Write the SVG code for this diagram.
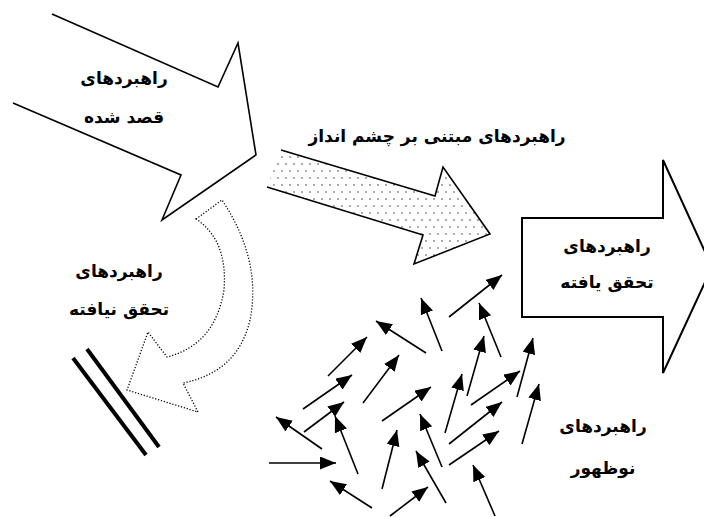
<svg xmlns="http://www.w3.org/2000/svg" width="704" height="517" viewBox="0 0 704 517">
<style>
.lbl{font-family:"DejaVu Sans","Noto Sans",sans-serif;font-weight:bold;font-size:17px;fill:#000;text-anchor:middle}
.big{fill:#fff;stroke:#000;stroke-width:1.6;stroke-linejoin:miter}
.dotline{fill:none;stroke:#000;stroke-width:1.3;stroke-dasharray:1.2 1.8}
.small{stroke:#000;stroke-width:1.6;marker-end:url(#ah)}
</style>
<defs>
<pattern id="dots" width="8" height="14" patternUnits="userSpaceOnUse">
<circle cx="2" cy="3" r="0.8" fill="#444"/>
<circle cx="6" cy="10" r="0.8" fill="#444"/>
</pattern>
<marker id="ah" markerUnits="userSpaceOnUse" markerWidth="17" markerHeight="14" refX="16" refY="6.5" orient="auto">
<path d="M0,0 L16,6.5 L0,13 Z" fill="#000"/>
</marker>
</defs>
<rect width="704" height="517" fill="#fff"/>

<g id="intended">
<path d="M52,14 L218,87 L238,43 L256,155 L162,220 L181,175 L13,103 Z" fill="#fff" stroke="none"/>
<path class="big" d="M52,14 L218,87 L238,43 L256,155 L162,220 L181,175 L13,103"/>
<text class="lbl" x="124" y="84">راهبردهای</text>
<text class="lbl" x="124" y="123">قصد شده</text>
</g>

<g id="deliberate">
<path d="M281,150 L435,196 L443,167 L490,234 L414,264 L423,235 L267,187 Z" fill="url(#dots)" stroke="none"/>
<path class="big" d="M281,150 L435,196 L443,167 L490,234 L414,264 L423,235 L267,187" style="fill:none"/>
<text class="lbl" x="437" y="142">راهبردهای مبتنی بر چشم انداز</text>
</g>

<g id="realized">
<path class="big" d="M522,218 L663,218 L663,160 L712,267 L663,373 L663,317 L522,317 Z" style="stroke-width:2"/>
<text class="lbl" x="607" y="252">راهبردهای</text>
<text class="lbl" x="607" y="288">تحقق یافته</text>
</g>

<g id="unrealized">
<path class="dotline" d="M196,219 L222,200 Q262,260 250,320 Q238,372 183,383 L198,412 L127,390 L148,332 L167,357 Q215,345 224,290 Q228,240 196,219 Z"/>
<line x1="73" y1="358" x2="146" y2="455" stroke="#000" stroke-width="4"/>
<line x1="87" y1="349" x2="159" y2="447" stroke="#000" stroke-width="4"/>
<text class="lbl" x="119" y="277">راهبردهای</text>
<text class="lbl" x="119" y="315">تحقق نیافته</text>
</g>

<g id="emergent">
<text class="lbl" x="603" y="432">راهبردهای</text>
<text class="lbl" x="603" y="474">نوظهور</text>
</g>

<g id="connectors">
<line class="small" x1="449" y1="317" x2="502" y2="275"/>
<line class="small" x1="442" y1="351" x2="421" y2="298"/>
<line class="small" x1="501" y1="357" x2="479" y2="303"/>
<line class="small" x1="426" y1="353" x2="376" y2="321"/>
<line class="small" x1="328" y1="376" x2="367" y2="337"/>
<line class="small" x1="363" y1="403" x2="399" y2="355"/>
<line class="small" x1="303" y1="409" x2="352" y2="375"/>
<line class="small" x1="304" y1="432" x2="344" y2="402"/>
<line class="small" x1="322" y1="449" x2="276" y2="417"/>
<line class="small" x1="358" y1="474" x2="335" y2="416"/>
<line class="small" x1="269" y1="463" x2="336" y2="463"/>
<line class="small" x1="372" y1="508" x2="330" y2="481"/>
<line class="small" x1="382" y1="489" x2="397" y2="430"/>
<line class="small" x1="382" y1="421" x2="431" y2="387"/>
<line class="small" x1="390" y1="516" x2="428" y2="487"/>
<line class="small" x1="446" y1="503" x2="416" y2="451"/>
<line class="small" x1="442" y1="467" x2="420" y2="414"/>
<line class="small" x1="445" y1="433" x2="462" y2="374"/>
<line class="small" x1="467" y1="396" x2="484" y2="336"/>
<line class="small" x1="471" y1="405" x2="520" y2="371"/>
<line class="small" x1="449" y1="444" x2="502" y2="402"/>
<line class="small" x1="449" y1="465" x2="499" y2="431"/>
<line class="small" x1="495" y1="516" x2="473" y2="465"/>
<line class="small" x1="517" y1="397" x2="533" y2="338"/>
<line class="small" x1="522" y1="444" x2="539" y2="384"/>
</g>
</svg>
